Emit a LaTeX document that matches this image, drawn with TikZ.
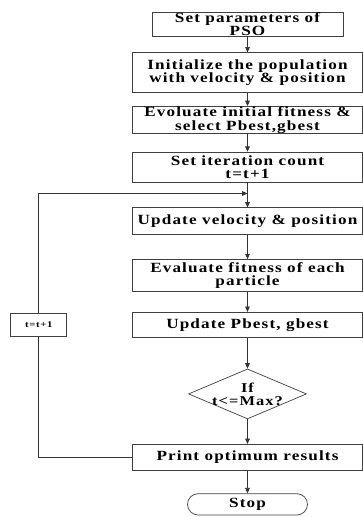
\documentclass[tikz,border=0pt]{standalone}
\usepackage{fontspec}
\setmainfont{Liberation Serif}[LetterSpace=8,FakeStretch=1.22]
\usepackage{tikz}
\usetikzlibrary{positioning,arrows.meta,shapes.geometric,calc}

\begin{document}
\begin{tikzpicture}[
  node distance=5mm,
  every node/.style={font=\bfseries\fontsize{12}{11.5}\selectfont},
  box/.style={draw=black!75, line width=0.6pt, rectangle, minimum width=69mm, align=center, inner xsep=0pt, inner ysep=-2pt},
  decision/.style={draw=black!75, line width=0.6pt, diamond, shape aspect=2.36, minimum width=35.4mm, minimum height=15mm, inner sep=-3pt, align=center},
  term/.style={draw=black!75, line width=0.6pt, rectangle, rounded corners=3.2mm, minimum width=36mm, minimum height=6.4mm, inner ysep=0pt},
  arr/.style={-{Triangle[length=1.6mm,width=1.4mm]}, line width=0.6pt, draw=black!80},
  line/.style={line width=0.6pt, draw=black!80}
]
\useasboundingbox (0,0) rectangle (10.89,-15.51);

\node[box, minimum width=57.3mm, minimum height=7.2mm] (set) at (7.425,-0.72) {Set parameters of\\PSO};
\node[box, below=4.8mm of set, minimum height=12mm] (init) {Initialize the population\\with velocity \& position};
\node[box, below=3.9mm of init, minimum height=8.1mm] (eval) {Evoluate initial fitness \&\\select Pbest,gbest};
\node[box, below=5.4mm of eval, minimum height=9mm] (iter) {Set iteration count\\t=t+1};
\node[box, below=7.5mm of iter, minimum height=8.1mm] (upd) {Update velocity \& position};
\node[box, below=7.2mm of upd, minimum height=9.6mm] (fit) {Evaluate fitness of each\\particle};
\node[box, below=6mm of fit, minimum height=7.5mm] (pbest) {Update Pbest, gbest};
\node[decision, below=9.3mm of pbest, font=\bfseries\fontsize{11.5}{11}\selectfont] (dec) {If\\t<=Max?};
\node[box, below=7.4mm of dec, minimum height=7.8mm] (print) {Print optimum results};
\node[term, below=6.8mm of print] (stop) {Stop};

\node[box, left=19.5mm of pbest, minimum width=16.8mm, minimum height=6.9mm, font=\bfseries\fontsize{7.5}{9}\selectfont] (tinc) {t=t+1};

\draw[arr] (set) -- (init);
\draw[arr] (init) -- (eval);
\draw[arr] (eval) -- (iter);
\draw[arr] (iter) -- (upd);
\draw[arr] (upd) -- (fit);
\draw[arr] (fit) -- (pbest);
\draw[arr] (pbest) -- (dec);
\draw[arr] (dec) -- (print);
\draw[arr] (print) -- (stop);

% loop back
\coordinate (join) at ($(iter.south)+(0,-3.3mm)$);
\draw[line] (print.west) -| (tinc.south);
\draw[arr] (tinc.north) |- (join);
\end{tikzpicture}
\end{document}
